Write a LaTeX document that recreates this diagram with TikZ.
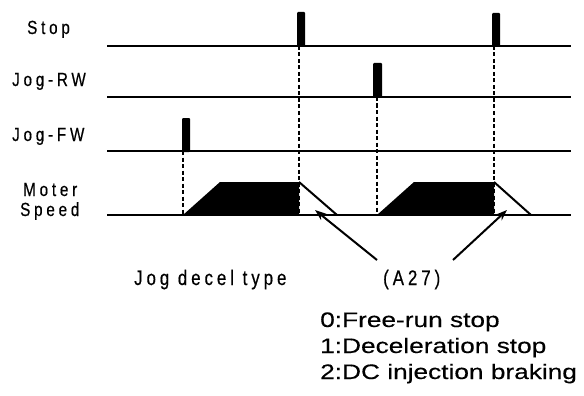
\documentclass[tikz,border=0pt]{standalone}
\usepackage{fontspec}
\setmainfont{Liberation Sans}
\newfontfamily\siglabel[FakeStretch=0.8,LetterSpace=20,FakeBold=0.5]{Liberation Sans}
\newfontfamily\notelabel[FakeStretch=0.8,LetterSpace=19,FakeBold=0.5]{Liberation Sans}
\newfontfamily\optlabel[FakeStretch=1.25,FakeBold=0.3]{Liberation Sans}
\usetikzlibrary{arrows.meta, positioning}

\begin{document}
\begin{tikzpicture}[
    x=1pt, y=-1pt,
    sig/.style={line width=2.8pt},
    pulse/.style={fill=black, rounded corners=1pt},
    guide/.style={line width=2.8pt, dash pattern=on 4pt off 2.5pt},
    fall/.style={line width=2pt},
    ar/.style={-{Stealth[length=11pt, width=8pt]}, line width=2pt},
    sl/.style={anchor=base west, inner sep=0pt, font=\fontsize{19}{22}\siglabel},
    nl/.style={anchor=base west, inner sep=0pt, font=\fontsize{21}{24}\notelabel},
    ol/.style={anchor=base west, inner sep=0pt, font=\fontsize{21}{26}\optlabel}
]
\useasboundingbox (0,0) rectangle (584,396);
% signal names
\node[sl] (stop) at (27,34) {Stop};
\node[sl] (rw) at (12,86) {Jog-RW};
\node[sl] (fw) at (12,141) {Jog-FW};
\node[sl] (moter) at (23,196) {Moter};
\node[sl] (speed) at (20,216) {Speed};
% signal lines
\foreach \y in {46,97,151,215}
    \draw[sig] (107,\y) -- (571,\y);
% input pulses
\fill[pulse] (297,47) rectangle (305,12);
\fill[pulse] (492,47) rectangle (500,13);
\fill[pulse] (373,98) rectangle (382,63);
\fill[pulse] (182,152) rectangle (190,118);
% dashed guides
\draw[guide] (183,151) -- (183,215);
\draw[guide] (299,46) -- (299,215);
\draw[guide] (377,97) -- (377,215);
\draw[guide] (494,46) -- (494,215);
% speed profiles
\fill (183,215) -- (220,182) -- (299,182) -- (299,215) -- cycle;
\draw[fall] (299,182) -- (337,215);
\fill (377,215) -- (414,182) -- (494,182) -- (494,215) -- cycle;
\draw[fall] (494,182) -- (531,215);
% decel type note
\node[nl] (decel) at (134,285) {Jog decel type};
\node[nl] (a27) at (383,285) {(A27)};
\coordinate (tail1) at (377,260);
\coordinate (tip1) at (315,210);
\coordinate (tail2) at (453,260);
\coordinate (tip2) at (507,210);
\draw[ar] (tail1) -- (tip1);
\draw[ar] (tail2) -- (tip2);
% settings
\node[ol] (opt0) at (320,327) {0:Free-run stop};
\node[ol] (opt1) at (320,353) {1:Deceleration stop};
\node[ol] (opt2) at (320,379) {2:DC injection braking};
\end{tikzpicture}
\end{document}
